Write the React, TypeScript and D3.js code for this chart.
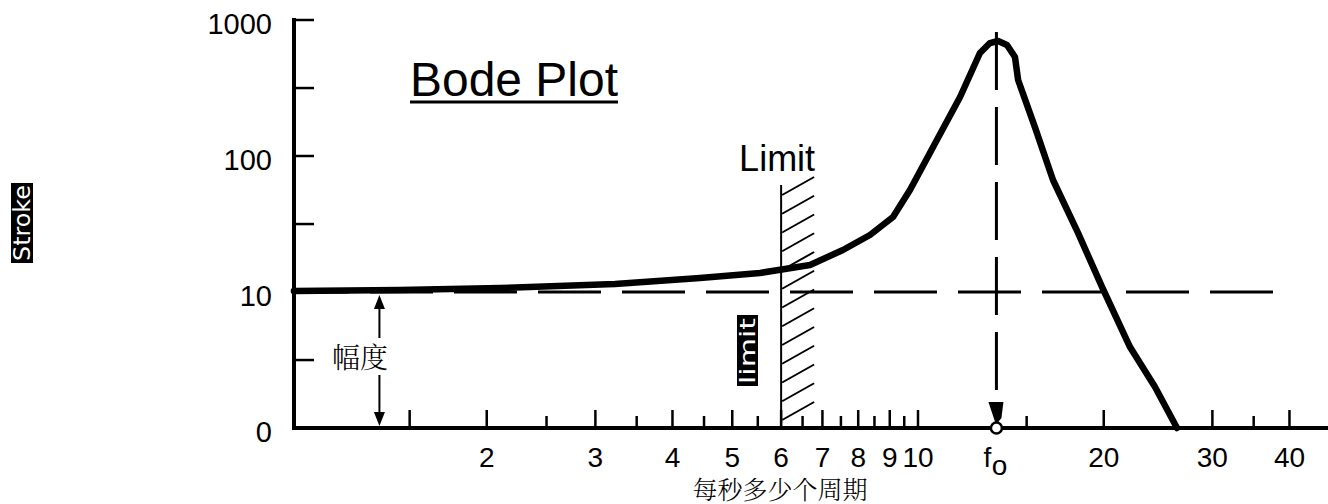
import React from "react";
import * as d3 from "d3";

const WIDTH = 1328;
const HEIGHT = 504;

// Response curve: frequency (cycles per second) against amplitude
const freq = [
  0.974, 1.447, 2.101, 3.228, 4.433, 5.546, 6.086, 6.683, 7.556, 8.359, 9.11, 9.705,
  10.58, 11.7, 12.6, 13.08, 13.48, 13.94, 14.36, 14.53, 15.47, 16.55, 18.17, 19.87,
  22.06, 24.22, 26.29,
];
const amplitude = [
  10.17, 10.34, 10.7, 11.45, 12.67, 13.8, 14.76, 15.8, 20.36, 26.25, 35.6, 56.2,
  116.5, 271.6, 572, 677, 701, 655, 535, 362, 163, 66.6, 27.2, 10.9,
  3.94, 2.0, 1.0,
];

const xMajorTicks = [1.5, 2, 3, 4, 5, 6, 7, 8, 9, 10, 20, 30, 40];
const xMinorTicks = [2.5, 3.5, 4.5, 5.5, 6.5, 7.5, 8.5, 9.5, 15, 35];
const xLabelValues = [2, 3, 4, 5, 6, 7, 8, 9, 10, 20, 30, 40];
const xLabels = ["2", "3", "4", "5", "6", "7", "8", "9", "10", "20", "30", "40"];

const yTickValues = [1, 10, 100, 1000];
const yTickLabels = ["0", "10", "100", "1000"];
const yMinorTicks = [3.16, 31.6, 316];

const resonanceFreq = 13.4;
const limitFreq = 6;
const referenceLevel = 10;
const amplitudeMarkerFreq = 1.34;

const LATIN = "'Liberation Sans', Arial, sans-serif";
const CJK = "'Liberation Serif', 'Noto Serif CJK SC', 'Noto Sans CJK SC', serif";
const PIXEL = "'DejaVu Sans', sans-serif";

const x = d3.scaleLog().domain([1, 10]).range([301, 918]);
const y = d3.scaleLog().domain([1, 1000]).range([428, 20]);

const axisLeft = 294;
const axisRight = WIDTH;
const baseY = y(1);

export default function App() {
  const line = d3
    .line<number>()
    .x((_, i) => x(freq[i]))
    .y((d) => y(d))
    .curve(d3.curveLinear);

  const fx = x(resonanceFreq);
  const lx = x(limitFreq);
  const refY = y(referenceLevel);
  const ax = x(amplitudeMarkerFreq);

  const hatchCount = 13;
  const hatches = d3.range(hatchCount).map((k) => baseY - 8 - 18.75 * k);

  return (
    <svg
      width={WIDTH}
      height={HEIGHT}
      style={{ position: "absolute", left: 0, top: 0, background: "#fff" }}
    >
      {/* Title */}
      <text x={410} y={96} fontFamily={LATIN} fontSize={48} textLength={208} lengthAdjust="spacingAndGlyphs">
        Bode Plot
      </text>
      <line x1={410} x2={618} y1={102} y2={102} stroke="#000" strokeWidth={3} />

      {/* Reference level (dashed) */}
      <line
        x1={axisLeft}
        x2={1273}
        y1={refY}
        y2={refY}
        stroke="#000"
        strokeWidth={3}
        strokeDasharray="63 21"
        strokeDashoffset={8}
      />

      {/* Resonance marker (dashed vertical) */}
      <line x1={fx} x2={fx} y1={32} y2={390} stroke="#000" strokeWidth={3} strokeDasharray="58 17" />
      <polygon
        points={`${fx - 8},${baseY - 26} ${fx + 7},${baseY - 26} ${fx + 5},${baseY - 10} ${fx + 1},${baseY - 5} ${fx - 1},${baseY - 5}`}
        fill="#000"
      />

      {/* Limit line with hatching */}
      <line x1={lx} x2={lx} y1={185} y2={baseY} stroke="#000" strokeWidth={2} />
      {hatches.map((hy, i) => (
        <line key={i} x1={lx + 1} y1={hy} x2={lx + 33} y2={hy - 18} stroke="#000" strokeWidth={2} />
      ))}
      <text x={lx - 4} y={171} textAnchor="middle" fontFamily={LATIN} fontSize={36}>
        Limit
      </text>

      {/* Rotated "limit" tag */}
      <rect x={737} y={315} width={21} height={71} fill="#000" />
      <text
        transform={`translate(755,384) rotate(-90)`}
        fontFamily={PIXEL}
        fontSize={22}
        fill="#fff"
        textLength={66}
        lengthAdjust="spacingAndGlyphs"
      >
        limit
      </text>

      {/* Rotated "Stroke" tag */}
      <rect x={11} y={183} width={22} height={80} fill="#000" />
      <text
        transform={`translate(30,261) rotate(-90)`}
        fontFamily={PIXEL}
        fontSize={23}
        fill="#fff"
        textLength={76}
        lengthAdjust="spacingAndGlyphs"
      >
        Stroke
      </text>

      {/* Response curve */}
      <path
        d={line(amplitude) ?? ""}
        fill="none"
        stroke="#000"
        strokeWidth={6.5}
        strokeLinejoin="round"
        strokeLinecap="round"
      />

      {/* Amplitude arrow */}
      <line x1={ax} x2={ax} y1={refY + 14} y2={338} stroke="#000" strokeWidth={2} />
      <polygon points={`${ax},${refY + 3} ${ax - 5.5},${refY + 17} ${ax + 5.5},${refY + 17}`} fill="#000" />
      <line x1={ax} x2={ax} y1={375} y2={baseY - 14} stroke="#000" strokeWidth={2} />
      <polygon points={`${ax},${baseY - 2} ${ax - 5.5},${baseY - 16} ${ax + 5.5},${baseY - 16}`} fill="#000" />
      <text x={360} y={368} textAnchor="middle" fontFamily={CJK} fontSize={28} fontWeight={300}>
        幅度
      </text>

      {/* Y axis */}
      <line x1={axisLeft} x2={axisLeft} y1={18} y2={baseY + 2} stroke="#000" strokeWidth={4} />
      {[...yTickValues, ...yMinorTicks].map((v, i) => (
        <line key={i} x1={axisLeft} x2={axisLeft + 20} y1={y(v)} y2={y(v)} stroke="#000" strokeWidth={2.5} />
      ))}
      {yTickValues.map((v, i) => (
        <text key={i} x={272} y={y(v) + 14} textAnchor="end" fontFamily={LATIN} fontSize={29}>
          {yTickLabels[i]}
        </text>
      ))}

      {/* X axis */}
      <line x1={axisLeft - 2} x2={axisRight} y1={baseY} y2={baseY} stroke="#000" strokeWidth={4} />
      {xMajorTicks.map((v, i) => (
        <line key={"M" + i} x1={x(v)} x2={x(v)} y1={baseY} y2={baseY - 18} stroke="#000" strokeWidth={2.5} />
      ))}
      {xMinorTicks.map((v, i) => (
        <line key={"m" + i} x1={x(v)} x2={x(v)} y1={baseY} y2={baseY - 12} stroke="#000" strokeWidth={2.5} />
      ))}
      {xLabelValues.map((v, i) => (
        <text key={i} x={x(v)} y={467} textAnchor="middle" fontFamily={LATIN} fontSize={28}>
          {xLabels[i]}
        </text>
      ))}
      <text x={fx - 9} y={467} textAnchor="middle" fontFamily={LATIN} fontSize={28}>
        f
      </text>
      <text x={fx + 3} y={475} textAnchor="middle" fontFamily={LATIN} fontSize={28}>
        o
      </text>
      <circle cx={fx} cy={baseY} r={5.5} fill="#fff" stroke="#000" strokeWidth={2.5} />

      {/* X axis title */}
      <text x={780} y={498.5} textAnchor="middle" fontFamily={CJK} fontSize={25} fontWeight={300}>
        每秒多少个周期
      </text>
    </svg>
  );
}
